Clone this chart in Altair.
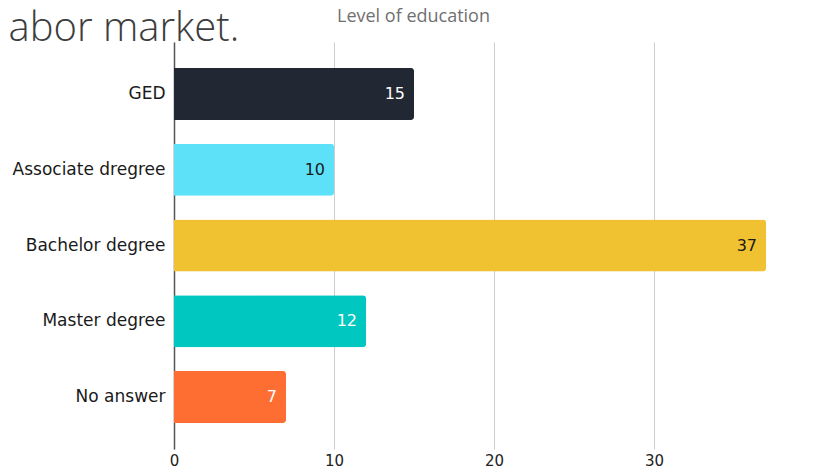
import altair as alt
import pandas as pd

categories = ["GED", "Associate dregree", "Bachelor degree", "Master degree", "No answer"]
values = [15, 10, 37, 12, 7]
tick_values = [0, 10, 20, 30, 40]

bar_colors = ["#222833", "#5ce1f8", "#f0c232", "#00c8c0", "#fe6e32"]
label_colors = ["#ffffff", "#1a1a1a", "#1a1a1a", "#ffffff", "#ffffff"]

df = pd.DataFrame({"category": categories, "value": values})

FONT = "DejaVu Sans"
PLOT_W = 637            # visible part of a 640px-wide 0..40 axis
PLOT_H = 407
x_scale = alt.Scale(domain=[0, 40 * PLOT_W / 640], nice=False, zero=True)
y_scale = alt.Scale(paddingInner=0.313, paddingOuter=0.343)

bars = alt.Chart(df).mark_bar(cornerRadiusEnd=3).encode(
    x=alt.X("value:Q", scale=x_scale,
            axis=alt.Axis(title="Level of education", values=tick_values, grid=True,
                          gridColor="#cccccc", domain=False, ticks=False, labelFontSize=15,
                          labelPadding=4, labelFlush=False, labelColor="#222222", labelFont=FONT,
                          titleX=239, titleY=-(PLOT_H + 21), titleFontSize=18,
                          titleColor="#707070", titleFontWeight="normal", titleFont="Open Sans",
                          titleBaseline="alphabetic", titleAlign="center", titleAngle=0)),
    y=alt.Y("category:N", sort=categories, scale=y_scale,
            axis=alt.Axis(title="abor market.", labelFontSize=17, labelColor="#1a1a1a",
                          labelPadding=9, ticks=False, domain=True, domainColor="#555555",
                          domainWidth=1.5, labelFont=FONT, grid=False,
                          titleX=-166, titleY=-2, titleAngle=0, titleAlign="left",
                          titleBaseline="alphabetic", titleFontSize=40, titleFont="Open Sans",
                          titleFontWeight=300, titleColor="#3d3d3d")),
    color=alt.Color("category:N", scale=alt.Scale(domain=categories, range=bar_colors), legend=None),
)

labels = alt.Chart(df).mark_text(align="right", baseline="middle", dx=-9, fontSize=16, font=FONT).encode(
    x=alt.X("value:Q", scale=x_scale),
    y=alt.Y("category:N", sort=categories, scale=y_scale),
    text="value:Q",
    color=alt.Color("category:N", scale=alt.Scale(domain=categories, range=label_colors), legend=None),
)

chart = alt.layer(bars, labels).resolve_scale(color="independent").properties(
    width=PLOT_W,
    height=PLOT_H,
    autosize=alt.AutoSizeParams(type="none"),
    padding={"left": 166, "top": 34, "right": 0, "bottom": 18},
).configure_view(stroke=None)

chart.save("out.html", embed_options={"renderer": "svg", "actions": False})
